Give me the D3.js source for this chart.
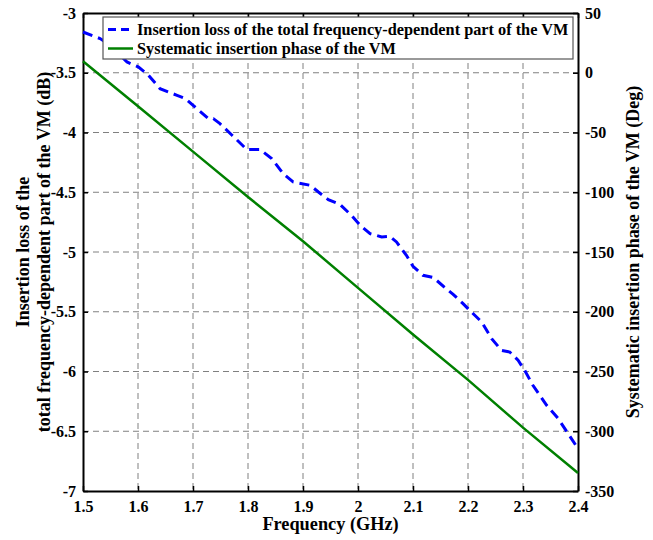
<!DOCTYPE html>
<html>
<head>
<meta charset="utf-8">
<style>
  body { margin: 0; background: #fff; }
  svg text { font-family: "Liberation Serif", "Times New Roman", serif; font-weight: bold; }
</style>
</head>
<body>
<div id="chart"></div>
<script src="https://cdn.jsdelivr.net/npm/d3@7"></script>
<script>
// insertion loss (left axis, dB)
var lossFreq = [1.5, 1.531, 1.55, 1.565, 1.58, 1.601, 1.619, 1.64, 1.671, 1.686, 1.707, 1.728, 1.737, 1.749,
  1.771, 1.798, 1.822, 1.843, 1.864, 1.882, 1.913, 1.928, 1.946, 1.967, 1.988, 2.004, 2.022, 2.043,
  2.058, 2.07, 2.088, 2.1, 2.118, 2.137, 2.164, 2.173, 2.191, 2.209, 2.225, 2.243, 2.261, 2.276,
  2.291, 2.303, 2.318, 2.343, 2.364, 2.382, 2.4];
var lossDb = [-3.159, -3.214, -3.27, -3.34, -3.41, -3.452, -3.521, -3.633, -3.689, -3.716, -3.8, -3.884, -3.884, -3.926,
  -4.023, -4.143, -4.143, -4.218, -4.344, -4.414, -4.442, -4.498, -4.562, -4.601, -4.693, -4.777, -4.846, -4.874,
  -4.869, -4.916, -5.028, -5.12, -5.195, -5.214, -5.321, -5.354, -5.432, -5.515, -5.586, -5.725, -5.823, -5.837,
  -5.906, -5.99, -6.115, -6.283, -6.394, -6.52, -6.645];

// systematic insertion phase (right axis, deg)
var phaseFreq = [1.5, 1.6, 1.7, 1.8, 1.9, 2.0, 2.1, 2.2, 2.3, 2.4];
var phaseDeg = [9.6, -28, -66, -104, -141, -180, -219, -257, -297, -335];

var xTicks = [1.5, 1.6, 1.7, 1.8, 1.9, 2.0, 2.1, 2.2, 2.3, 2.4];
var yLeftTicks = [-3, -3.5, -4, -4.5, -5, -5.5, -6, -6.5, -7];
var yRightTicks = [50, 0, -50, -100, -150, -200, -250, -300, -350];

var legendLabels = ["Insertion loss of the total frequency-dependent part of the VM",
                    "Systematic insertion phase of the VM"];

var W = 653, H = 540;
var m = {left: 83, right: 75, top: 13, bottom: 49};
var pw = W - m.left - m.right, ph = H - m.top - m.bottom;

var svg = d3.select('#chart').append('svg').attr('width', W).attr('height', H);
var g = svg.append('g').attr('transform', 'translate(' + m.left + ',' + m.top + ')');

var x = d3.scaleLinear().domain([1.5, 2.4]).range([0, pw]);
var yL = d3.scaleLinear().domain([-7, -3]).range([ph, 0]);
var yR = d3.scaleLinear().domain([-350, 50]).range([ph, 0]);

// grid
g.append('g').selectAll('line').data(xTicks.slice(1, -1)).enter().append('line')
  .attr('x1', d => x(d)).attr('x2', d => x(d)).attr('y1', 0).attr('y2', ph)
  .attr('stroke', '#808080').attr('stroke-width', 1).attr('stroke-dasharray', '6,4');
g.append('g').selectAll('line').data(yLeftTicks.slice(1, -1)).enter().append('line')
  .attr('y1', d => yL(d)).attr('y2', d => yL(d)).attr('x1', 0).attr('x2', pw)
  .attr('stroke', '#808080').attr('stroke-width', 1).attr('stroke-dasharray', '6,4');

// axes
var axBottom = g.append('g').attr('transform', 'translate(0,' + ph + ')')
  .call(d3.axisBottom(x).tickValues(xTicks).tickSizeInner(-5).tickSizeOuter(0).tickPadding(10)
    .tickFormat(d => d === 2 ? '2' : d3.format('.1f')(d)));
var axTop = g.append('g')
  .call(d3.axisTop(x).tickValues(xTicks).tickSizeInner(-5).tickSizeOuter(0).tickFormat(''));
var axLeft = g.append('g')
  .call(d3.axisLeft(yL).tickValues(yLeftTicks).tickSizeInner(-5).tickSizeOuter(0).tickPadding(7)
    .tickFormat(d => String(d)));
var axRight = g.append('g').attr('transform', 'translate(' + pw + ',0)')
  .call(d3.axisRight(yR).tickValues(yRightTicks).tickSizeInner(-5).tickSizeOuter(0).tickPadding(7)
    .tickFormat(d => String(d)));
[axBottom, axTop, axLeft, axRight].forEach(function (a) {
  a.select('.domain').attr('stroke', '#000').attr('stroke-width', 2);
  a.selectAll('.tick line').attr('stroke', '#000').attr('stroke-width', 1.5);
  a.selectAll('text').attr('fill', '#000').style('font-size', '16px')
    .style('font-family', '"Liberation Serif", serif').style('font-weight', 'bold');
});

// lines
var lossData = lossFreq.map((f, i) => [f, lossDb[i]]);
var phaseData = phaseFreq.map((f, i) => [f, phaseDeg[i]]);

g.append('path').datum(phaseData)
  .attr('d', d3.line().x(d => x(d[0])).y(d => yR(d[1])))
  .attr('fill', 'none').attr('stroke', '#008000').attr('stroke-width', 2.5);

g.append('path').datum(lossData)
  .attr('d', d3.line().x(d => x(d[0])).y(d => yL(d[1])))
  .attr('fill', 'none').attr('stroke', '#0000ff').attr('stroke-width', 3)
  .attr('stroke-dasharray', '10,6');

// legend
var lg = svg.append('g').attr('transform', 'translate(103,17)');
lg.append('rect').attr('width', 470).attr('height', 42)
  .attr('fill', '#fff').attr('stroke', '#555').attr('stroke-width', 1.2);
var rows = lg.selectAll('g.row').data(legendLabels).enter().append('g')
  .attr('transform', (d, i) => 'translate(0,' + (12.5 + i * 19) + ')');
rows.append('line').attr('x1', 5).attr('x2', 30).attr('y1', 0).attr('y2', 0)
  .attr('stroke', (d, i) => i === 0 ? '#0000ff' : '#008000')
  .attr('stroke-width', (d, i) => i === 0 ? 3 : 2.5)
  .attr('stroke-dasharray', (d, i) => i === 0 ? '8,5' : null);
rows.append('text').attr('x', 34).attr('y', 0).attr('dy', '0.35em')
  .style('font-size', '16.3px').text(d => d);

// axis titles
svg.append('text').attr('x', m.left + pw / 2).attr('y', 530).attr('text-anchor', 'middle')
  .style('font-size', '18.3px').text('Frequency (GHz)');
svg.append('text').attr('transform', 'translate(29,252) rotate(-90)').attr('text-anchor', 'middle')
  .style('font-size', '18px').text('Insertion loss of the');
svg.append('text').attr('transform', 'translate(50,252) rotate(-90)').attr('text-anchor', 'middle')
  .style('font-size', '18px').text('total frequency-dependent part of the VM (dB)');
svg.append('text').attr('transform', 'translate(639,252) rotate(-90)').attr('text-anchor', 'middle')
  .style('font-size', '18px').text('Systematic insertion phase of the VM (Deg)');
</script>
</body>
</html>
